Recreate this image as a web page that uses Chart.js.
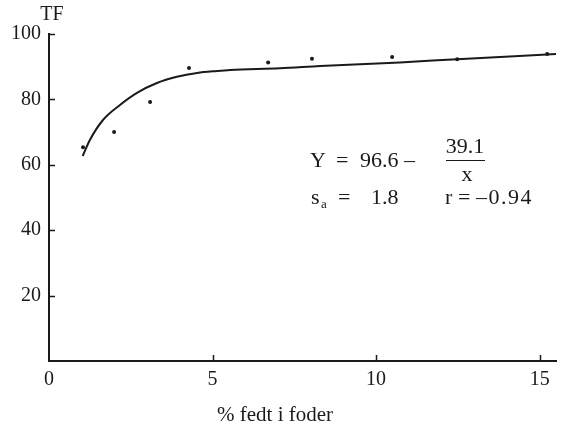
<!DOCTYPE html>
<html>
<head>
<meta charset="utf-8">
<script src="https://cdn.jsdelivr.net/npm/chart.js@4/dist/chart.umd.min.js"></script>
<style>
    html, body { margin: 0; padding: 0; background: #fff; }
    #wrap { width: 566px; height: 429px; }
</style>
</head>
<body>
<div id="wrap"><canvas id="tf-chart" width="566" height="429"></canvas></div>
<script>
// measured points
const pointX = [1.04, 1.99, 3.09, 4.28, 6.70, 8.04, 10.49, 12.48, 15.23];
const pointY = [65.4, 70.0, 79.2, 89.6, 91.3, 92.4, 93.0, 92.3, 93.9];

// fitted curve
const curveX = [1.03, 1.25, 1.65, 2.17, 2.69, 3.30, 3.91, 4.53, 5.14, 5.54, 7.06, 8.29, 10.73, 12.48, 15.54];
const curveY = [62.7, 67.6, 73.7, 78.3, 82.0, 85.0, 86.9, 88.1, 88.7, 89.0, 89.5, 90.2, 91.3, 92.3, 93.9];

const xTicks = [0, 5, 10, 15];
const yTicks = [20, 40, 60, 80, 100];

const ink = '#1a1a1a';
const serif = '"Liberation Serif", "DejaVu Serif", serif';

const ctx = document.getElementById('tf-chart').getContext('2d');

// inward tick marks + free text
const extras = {
    id: 'extras',
    afterDraw(chart) {
        const c = chart.ctx;
        const xs = chart.scales.x;
        const ys = chart.scales.y;
        c.save();
        c.strokeStyle = ink;
        c.lineWidth = 1.5;
        c.beginPath();
        yTicks.forEach(v => {
            const py = Math.round(ys.getPixelForValue(v)) + 0.5;
            c.moveTo(xs.left, py);
            c.lineTo(xs.left + 6, py);
        });
        xTicks.slice(1).forEach(v => {
            const px = Math.round(xs.getPixelForValue(v)) + 0.5;
            c.moveTo(px, ys.bottom);
            c.lineTo(px, ys.bottom - 6);
        });
        c.stroke();

        c.fillStyle = ink;
        c.textBaseline = 'middle';
        c.textAlign = 'center';
        c.font = '20px ' + serif;
        c.fillText('TF', 52, 15);
        c.font = '21px ' + serif;
        c.fillText('% fedt i foder', 275, 415);

        // equation
        c.font = '22px ' + serif;
        c.textAlign = 'left';
        c.fillText('Y', 310, 161);
        c.fillText('=', 336, 161);
        c.fillText('96.6', 360, 161);
        c.fillText('\u2013', 404, 161);
        c.textAlign = 'center';
        c.fillText('39.1', 465, 147);
        c.fillText('x', 467, 175);
        c.beginPath();
        c.lineWidth = 1;
        c.moveTo(446, 160.5);
        c.lineTo(485, 160.5);
        c.stroke();

        c.textAlign = 'left';
        c.fillText('s', 311, 198);
        c.font = '13px ' + serif;
        c.fillText('a', 321, 205);
        c.font = '22px ' + serif;
        c.fillText('=', 338, 198);
        c.fillText('1.8', 371, 198);
        c.fillText('r', 445, 198);
        c.fillText('=', 458, 198);
        c.letterSpacing = '1.5px';
        c.fillText('\u20130.94', 476, 198);
        c.restore();
    }
};

new Chart(ctx, {
    type: 'scatter',
    data: {
        datasets: [
            {
                label: 'fit',
                data: curveX.map((x, i) => ({ x, y: curveY[i] })),
                showLine: true,
                borderColor: ink,
                borderWidth: 2,
                pointRadius: 0,
                cubicInterpolationMode: 'monotone',
                fill: false
            },
            {
                label: 'TF',
                data: pointX.map((x, i) => ({ x, y: pointY[i] })),
                backgroundColor: ink,
                borderColor: ink,
                borderWidth: 0,
                pointRadius: 2
            }
        ]
    },
    options: {
        responsive: false,
        animation: false,
        layout: { padding: { left: 0, top: 34, right: 10, bottom: 0 } },
        scales: {
            x: {
                type: 'linear',
                min: 0,
                max: 15.5,
                afterBuildTicks: scale => { scale.ticks = xTicks.map(v => ({ value: v })); },
                afterFit: scale => { scale.height = 68; },
                grid: { display: false, drawTicks: false },
                border: { display: true, color: ink, width: 2 },
                ticks: {
                    color: ink,
                    padding: 7,
                    font: { family: serif, size: 20 }
                }
            },
            y: {
                type: 'linear',
                min: 0,
                max: 100,
                afterBuildTicks: scale => { scale.ticks = yTicks.map(v => ({ value: v })); },
                afterFit: scale => { scale.width = 49; },
                grid: { display: false, drawTicks: false },
                border: { display: true, color: ink, width: 2 },
                ticks: {
                    color: ink,
                    padding: 8,
                    font: { family: serif, size: 20 }
                }
            }
        },
        plugins: {
            legend: { display: false },
            tooltip: { enabled: false }
        }
    },
    plugins: [extras]
});
</script>
</body>
</html>
